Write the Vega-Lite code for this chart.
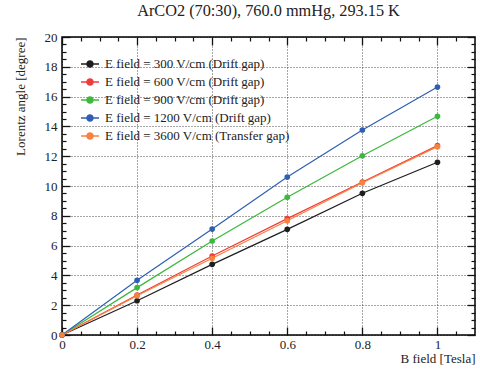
{
  "$schema": "https://vega.github.io/schema/vega-lite/v6.json",
  "autosize": "none",
  "width": 413,
  "height": 298,
  "padding": {"left": 62, "top": 37, "right": 5, "bottom": 37},
  "background": "white",
  "config": {
    "font": "Liberation Serif, Times New Roman, serif",
    "view": {"stroke": "black", "strokeWidth": 1.5},
    "axis": {"labelFont": "Liberation Serif, Times New Roman, serif", "titleFont": "Liberation Serif, Times New Roman, serif", "labelColor": "#222", "titleColor": "#222", "titleFontWeight": "normal", "domain": false},
    "legend": {"labelFont": "Liberation Serif, Times New Roman, serif"},
    "title": {"font": "Liberation Serif, Times New Roman, serif"}
  },
  "title": {"text": "ArCO2 (70:30), 760.0 mmHg, 293.15 K", "fontSize": 16.3, "fontWeight": "normal", "color": "#222", "anchor": "middle", "offset": 12},
  "data": {
    "values": [
      {"B": 0, "angle": 0, "series": "E field = 300 V/cm (Drift gap)"},
      {"B": 0.2, "angle": 2.30, "series": "E field = 300 V/cm (Drift gap)"},
      {"B": 0.4, "angle": 4.74, "series": "E field = 300 V/cm (Drift gap)"},
      {"B": 0.6, "angle": 7.09, "series": "E field = 300 V/cm (Drift gap)"},
      {"B": 0.8, "angle": 9.51, "series": "E field = 300 V/cm (Drift gap)"},
      {"B": 1.0, "angle": 11.59, "series": "E field = 300 V/cm (Drift gap)"},
      {"B": 0, "angle": 0, "series": "E field = 600 V/cm (Drift gap)"},
      {"B": 0.2, "angle": 2.68, "series": "E field = 600 V/cm (Drift gap)"},
      {"B": 0.4, "angle": 5.30, "series": "E field = 600 V/cm (Drift gap)"},
      {"B": 0.6, "angle": 7.81, "series": "E field = 600 V/cm (Drift gap)"},
      {"B": 0.8, "angle": 10.27, "series": "E field = 600 V/cm (Drift gap)"},
      {"B": 1.0, "angle": 12.71, "series": "E field = 600 V/cm (Drift gap)"},
      {"B": 0, "angle": 0, "series": "E field = 900 V/cm (Drift gap)"},
      {"B": 0.2, "angle": 3.18, "series": "E field = 900 V/cm (Drift gap)"},
      {"B": 0.4, "angle": 6.31, "series": "E field = 900 V/cm (Drift gap)"},
      {"B": 0.6, "angle": 9.24, "series": "E field = 900 V/cm (Drift gap)"},
      {"B": 0.8, "angle": 12.03, "series": "E field = 900 V/cm (Drift gap)"},
      {"B": 1.0, "angle": 14.68, "series": "E field = 900 V/cm (Drift gap)"},
      {"B": 0, "angle": 0, "series": "E field = 1200 V/cm (Drift gap)"},
      {"B": 0.2, "angle": 3.67, "series": "E field = 1200 V/cm (Drift gap)"},
      {"B": 0.4, "angle": 7.11, "series": "E field = 1200 V/cm (Drift gap)"},
      {"B": 0.6, "angle": 10.60, "series": "E field = 1200 V/cm (Drift gap)"},
      {"B": 0.8, "angle": 13.76, "series": "E field = 1200 V/cm (Drift gap)"},
      {"B": 1.0, "angle": 16.64, "series": "E field = 1200 V/cm (Drift gap)"},
      {"B": 0, "angle": 0, "series": "E field = 3600 V/cm (Transfer gap)"},
      {"B": 0.2, "angle": 2.64, "series": "E field = 3600 V/cm (Transfer gap)"},
      {"B": 0.4, "angle": 5.15, "series": "E field = 3600 V/cm (Transfer gap)"},
      {"B": 0.6, "angle": 7.67, "series": "E field = 3600 V/cm (Transfer gap)"},
      {"B": 0.8, "angle": 10.22, "series": "E field = 3600 V/cm (Transfer gap)"},
      {"B": 1.0, "angle": 12.64, "series": "E field = 3600 V/cm (Transfer gap)"}
    ]
  },
  "resolve": {"axis": {"x": "independent", "y": "independent"}},
  "layer": [
    {
      "mark": {"type": "line", "point": {"filled": true, "size": 32, "opacity": 1}, "strokeWidth": 1.2},
      "encoding": {
        "x": {"field": "B", "type": "quantitative", "scale": {"domain": [0, 1.1], "nice": false, "zero": false},
          "axis": {"orient": "bottom", "values": [0, 0.2, 0.4, 0.6, 0.8, 1], "format": "~g", "ticks": false, "labelPadding": 3, "labelFontSize": 13, "grid": true, "gridDash": [1, 2], "gridColor": "#000", "gridOpacity": 0.7, "title": "B field [Tesla]", "titleFontSize": 13, "titleX": 413, "titleY": 27, "titleAlign": "right", "titleBaseline": "alphabetic", "labelFlush": false}},
        "y": {"field": "angle", "type": "quantitative", "scale": {"domain": [0, 20], "nice": false},
          "axis": {"orient": "left", "values": [0, 2, 4, 6, 8, 10, 12, 14, 16, 18, 20], "ticks": false, "labelPadding": 5, "labelFontSize": 13, "grid": true, "gridDash": [1, 2], "gridColor": "#000", "gridOpacity": 0.7, "title": "Lorentz angle [degree]", "titleFontSize": 13, "titleAngle": -90, "titleX": -42, "titleY": 0, "titleAlign": "right", "titleBaseline": "middle", "labelFlush": false}},
        "color": {"field": "series", "type": "nominal",
          "sort": ["E field = 300 V/cm (Drift gap)", "E field = 600 V/cm (Drift gap)", "E field = 900 V/cm (Drift gap)", "E field = 1200 V/cm (Drift gap)", "E field = 3600 V/cm (Transfer gap)"],
          "scale": {"domain": ["E field = 300 V/cm (Drift gap)", "E field = 600 V/cm (Drift gap)", "E field = 900 V/cm (Drift gap)", "E field = 1200 V/cm (Drift gap)", "E field = 3600 V/cm (Transfer gap)"], "range": ["#1e1e1e", "#f23a3a", "#3cb83c", "#2f5fb3", "#f7823e"]},
          "legend": {"orient": "none", "legendX": 18, "legendY": 17, "title": null, "labelFontSize": 13, "labelColor": "#222", "labelOffset": 5, "labelLimit": 400, "rowPadding": 1,
            "symbolType": "M-1,0L1,0M-0.33,0A0.33,0.33 0 1,1 0.33,0A0.33,0.33 0 1,1 -0.33,0Z", "symbolSize": 324, "symbolStrokeWidth": 1.5,
            "encode": {"symbols": {"update": {"fill": {"scale": "color", "field": "value"}, "stroke": {"scale": "color", "field": "value"}, "opacity": {"value": 1}}}}}
        },
        "order": {"field": "B", "type": "quantitative"}
      }
    },
    {
      "mark": {"type": "point", "opacity": 0},
      "encoding": {
        "x": {"field": "B", "type": "quantitative", "axis": {"orient": "bottom", "values": [0, 0.2, 0.4, 0.6, 0.8, 1], "labels": false, "tickSize": -8, "tickColor": "#111", "tickWidth": 1.3, "grid": false, "title": null}},
        "y": {"field": "angle", "type": "quantitative", "axis": {"orient": "left", "values": [0, 2, 4, 6, 8, 10, 12, 14, 16, 18, 20], "labels": false, "tickSize": -8, "tickColor": "#111", "tickWidth": 1.3, "grid": false, "title": null}}
      }
    },
    {
      "mark": {"type": "point", "opacity": 0},
      "encoding": {
        "x": {"field": "B", "type": "quantitative", "axis": {"orient": "bottom", "values": [0.05, 0.1, 0.15, 0.25, 0.3, 0.35, 0.45, 0.5, 0.55, 0.65, 0.7, 0.75, 0.85, 0.9, 0.95, 1.05], "labels": false, "tickSize": -4, "tickColor": "#111", "tickWidth": 1.2, "grid": false, "title": null}},
        "y": {"field": "angle", "type": "quantitative", "axis": {"orient": "left", "values": [0.5, 1, 1.5, 2.5, 3, 3.5, 4.5, 5, 5.5, 6.5, 7, 7.5, 8.5, 9, 9.5, 10.5, 11, 11.5, 12.5, 13, 13.5, 14.5, 15, 15.5, 16.5, 17, 17.5, 18.5, 19, 19.5], "labels": false, "tickSize": -4, "tickColor": "#111", "tickWidth": 1.2, "grid": false, "title": null}}
      }
    },
    {
      "mark": {"type": "point", "opacity": 0},
      "encoding": {
        "x": {"field": "B", "type": "quantitative", "axis": {"orient": "top", "values": [0, 0.2, 0.4, 0.6, 0.8, 1], "labels": false, "tickSize": -8, "tickColor": "#111", "tickWidth": 1.3, "grid": false, "title": null}},
        "y": {"field": "angle", "type": "quantitative", "axis": {"orient": "right", "values": [0, 2, 4, 6, 8, 10, 12, 14, 16, 18, 20], "labels": false, "tickSize": -8, "tickColor": "#111", "tickWidth": 1.3, "grid": false, "title": null}}
      }
    },
    {
      "mark": {"type": "point", "opacity": 0},
      "encoding": {
        "x": {"field": "B", "type": "quantitative", "axis": {"orient": "top", "values": [0.05, 0.1, 0.15, 0.25, 0.3, 0.35, 0.45, 0.5, 0.55, 0.65, 0.7, 0.75, 0.85, 0.9, 0.95, 1.05], "labels": false, "tickSize": -4, "tickColor": "#111", "tickWidth": 1.2, "grid": false, "title": null}},
        "y": {"field": "angle", "type": "quantitative", "axis": {"orient": "right", "values": [0.5, 1, 1.5, 2.5, 3, 3.5, 4.5, 5, 5.5, 6.5, 7, 7.5, 8.5, 9, 9.5, 10.5, 11, 11.5, 12.5, 13, 13.5, 14.5, 15, 15.5, 16.5, 17, 17.5, 18.5, 19, 19.5], "labels": false, "tickSize": -4, "tickColor": "#111", "tickWidth": 1.2, "grid": false, "title": null}}
      }
    }
  ]
}
